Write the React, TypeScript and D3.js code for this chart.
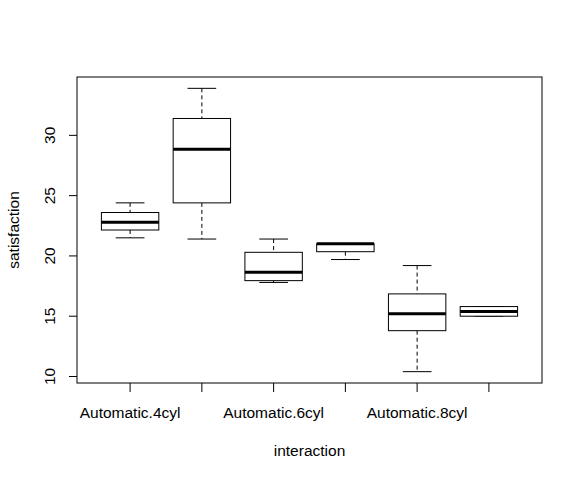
import React from "react";
import * as d3 from "d3";

const groups = ["Automatic.4cyl", "Manual.4cyl", "Automatic.6cyl", "Manual.6cyl", "Automatic.8cyl", "Manual.8cyl"];
const shownLabels = ["Automatic.4cyl", "", "Automatic.6cyl", "", "Automatic.8cyl", ""];
const whiskerLow = [21.5, 21.4, 17.8, 19.7, 10.4, 15.0];
const hingeLow = [22.15, 24.4, 17.95, 20.35, 13.8, 15.0];
const medians = [22.8, 28.85, 18.65, 21.0, 15.2, 15.4];
const hingeHigh = [23.6, 31.4, 20.3, 21.0, 16.85, 15.8];
const whiskerHigh = [24.4, 33.9, 21.4, 21.0, 19.2, 15.8];
const yTicks = [10, 15, 20, 25, 30];

export default function App() {
  const W = 582, H = 480;
  const left = 77, right = 542, top = 77, bottom = 383;
  const n = groups.length;
  const xr = [0.5, n + 0.5];
  const xe = (xr[1] - xr[0]) * 0.04;
  const x = d3.scaleLinear().domain([xr[0] - xe, xr[1] + xe]).range([left, right]);
  const ymin = d3.min(whiskerLow)!, ymax = d3.max(whiskerHigh)!;
  const ye = (ymax - ymin) * 0.04;
  const y = d3.scaleLinear().domain([ymin - ye, ymax + ye]).range([bottom, top]);
  const bw = x(1.4) - x(1);
  const cw = bw / 2;
  const font = "Liberation Sans, Arial, sans-serif";
  const fs = 15.5;
  return (
    <svg width={W} height={H} style={{ position: "absolute", left: 0, top: 0 }} fontFamily={font}>
      <rect width={W} height={H} fill="#fff" />
      {groups.map((g, i) => {
        const cx = x(i + 1);
        return (
          <g key={g} stroke="#000" fill="none">
            <line x1={cx} x2={cx} y1={y(whiskerHigh[i])} y2={y(hingeHigh[i])} strokeDasharray="4,3" />
            <line x1={cx} x2={cx} y1={y(hingeLow[i])} y2={y(whiskerLow[i])} strokeDasharray="4,3" />
            <line x1={cx - cw} x2={cx + cw} y1={y(whiskerHigh[i])} y2={y(whiskerHigh[i])} />
            <line x1={cx - cw} x2={cx + cw} y1={y(whiskerLow[i])} y2={y(whiskerLow[i])} />
            <rect x={cx - bw} width={bw * 2} y={y(hingeHigh[i])} height={y(hingeLow[i]) - y(hingeHigh[i])} fill="#fff" />
            <line x1={cx - bw} x2={cx + bw} y1={y(medians[i])} y2={y(medians[i])} strokeWidth={3} />
          </g>
        );
      })}
      <rect x={left} y={top} width={right - left} height={bottom - top} fill="none" stroke="#000" />
      {yTicks.map((t) => (
        <g key={t}>
          <line x1={left - 8} x2={left} y1={y(t)} y2={y(t)} stroke="#000" />
          <text transform={`translate(${55},${y(t)}) rotate(-90)`} textAnchor="middle" fontSize={fs} fill="#000">{t}</text>
        </g>
      ))}
      {groups.map((g, i) => (
        <g key={"t" + g}>
          <line x1={x(i + 1)} x2={x(i + 1)} y1={bottom} y2={bottom + 9} stroke="#000" />
          {shownLabels[i] && (
            <text x={x(i + 1)} y={418} textAnchor="middle" fontSize={fs} fill="#000">{shownLabels[i]}</text>
          )}
        </g>
      ))}
      <text x={(left + right) / 2} y={456} textAnchor="middle" fontSize={fs} fill="#000">interaction</text>
      <text transform={`translate(${19},${(top + bottom) / 2}) rotate(-90)`} textAnchor="middle" fontSize={fs} fill="#000">satisfaction</text>
    </svg>
  );
}
